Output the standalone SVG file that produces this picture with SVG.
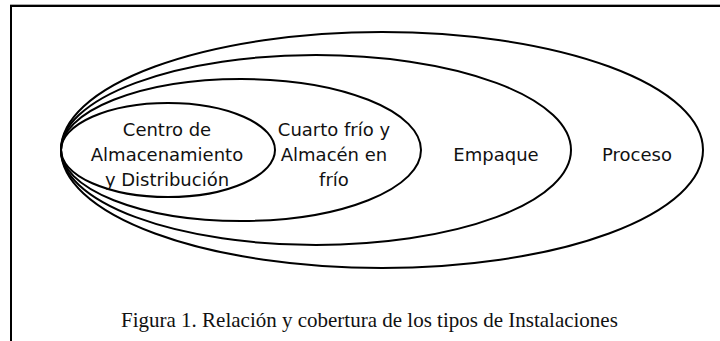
<svg xmlns="http://www.w3.org/2000/svg" width="720" height="341" viewBox="0 0 720 341">
<style>
.e{fill:none;stroke:#000;stroke-width:2}
.t{font-family:"DejaVu Sans",Verdana,sans-serif;font-size:18px;fill:#111;text-anchor:middle}
.c{font-family:"Liberation Serif","Times New Roman",serif;font-size:21px;fill:#111}
</style>
<rect x="0" y="0" width="720" height="341" fill="#fff"/>
<path d="M11 341 V6 H720" fill="none" stroke="#000" stroke-width="2"/>
<line x1="10" y1="4.5" x2="720" y2="4.5" stroke="#aaa" stroke-width="1"/>
<g id="proceso">
<ellipse class="e" cx="382" cy="150" rx="321" ry="118"/>
<text class="t" x="637" y="161">Proceso</text>
</g>
<g id="empaque">
<ellipse class="e" cx="316" cy="150" rx="255" ry="95"/>
<text class="t" x="496" y="161">Empaque</text>
</g>
<g id="cuarto">
<ellipse class="e" cx="241" cy="150" rx="180" ry="71"/>
<text class="t" x="334" y="136">Cuarto frío y</text>
<text class="t" x="334" y="161">Almacén en</text>
<text class="t" x="334" y="186">frío</text>
</g>
<g id="centro">
<ellipse class="e" cx="168" cy="150" rx="107" ry="47"/>
<text class="t" x="167" y="136">Centro de</text>
<text class="t" x="167" y="161">Almacenamiento</text>
<text class="t" x="167" y="186">y Distribución</text>
</g>
<g id="connectors"/>
<text class="c" x="121" y="327">Figura 1. Relación y cobertura de los tipos de Instalaciones</text>
</svg>
